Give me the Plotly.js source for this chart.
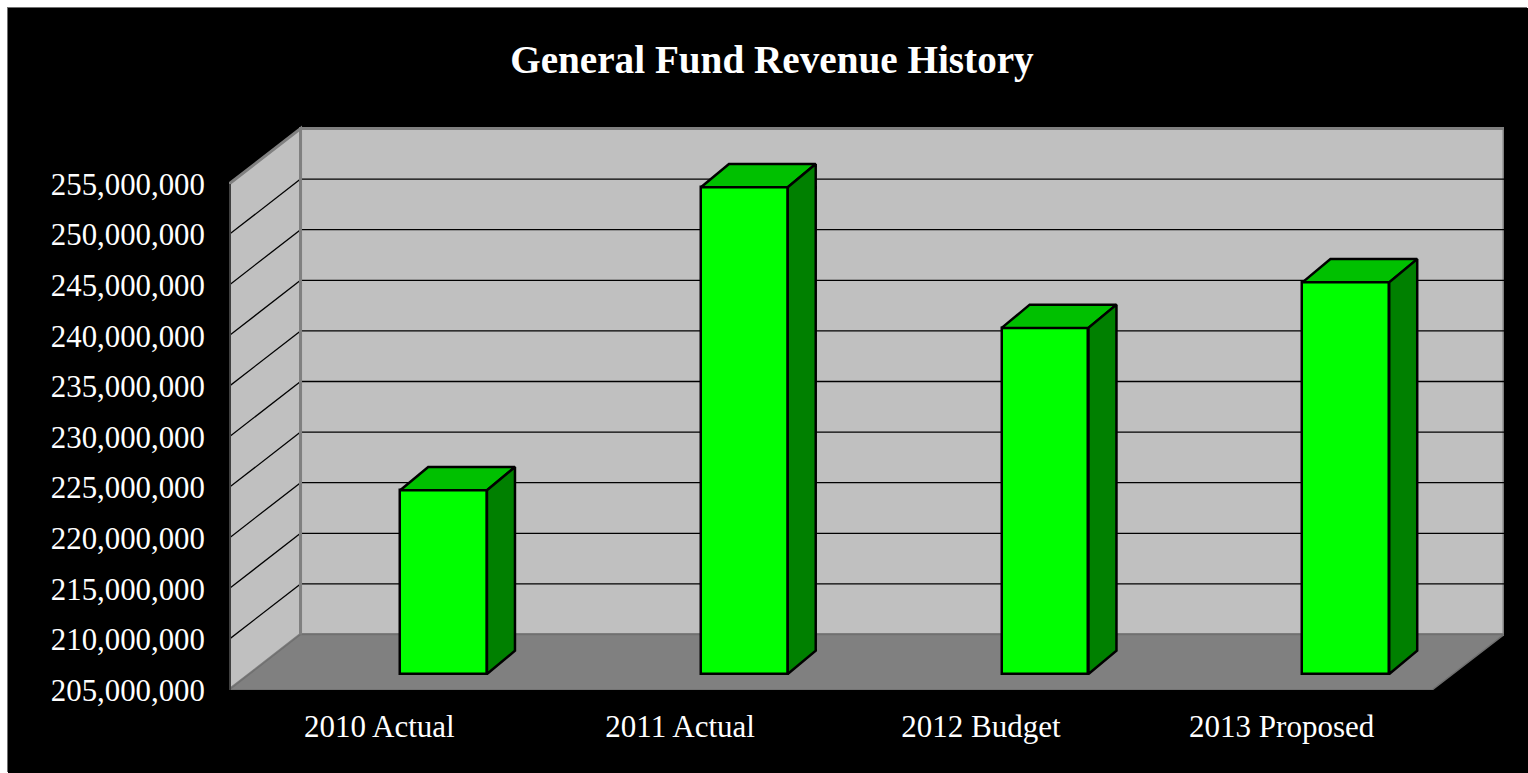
<!DOCTYPE html>
<html>
<head>
<meta charset="utf-8">
<script src="https://cdn.plot.ly/plotly-3.0.1.min.js"></script>
<style>
html,body{margin:0;padding:0;background:#fff;overflow:hidden}
#chart{position:absolute;left:8px;top:8px;width:1520px;height:765px;box-shadow:-1px -1px 0 #707070}
</style>
</head>
<body>
<div id="chart"></div>
<script>
var categories = ["2010 Actual", "2011 Actual", "2012 Budget", "2013 Proposed"];
var values = [223150000, 253100000, 239200000, 243700000];
var yTicks = [205000000,210000000,215000000,220000000,225000000,230000000,235000000,240000000,245000000,250000000,255000000];

var yMin = 205000000, yMax = 260830000;
var xMax = 4.2394;
var backDx = 0.2378, backDy = 5484000;   // depth of the chart box, axis units
var barShift = 0.2135, barWidth = 0.2885, barBase = 206580000; // bar placement on the floor
var barDx = 0.0931, barDy = 2300000;     // depth of each bar, axis units

var FONT = '"Liberation Serif","Times New Roman",serif';
var shapes = [];
function poly(pts, fill, lineColor, lineWidth) {
  var d = pts.map(function (p, i) { return (i ? 'L' : 'M') + p[0] + ',' + p[1]; }).join(' ') + ' Z';
  shapes.push({type:'path', path:d, xref:'x', yref:'y', layer:'below', fillcolor:fill,
               line:{color:lineColor, width:lineWidth}});
}
function seg(a, b, color, width) {
  shapes.push({type:'line', xref:'x', yref:'y', layer:'below', x0:a[0], y0:a[1], x1:b[0], y1:b[1],
               line:{color:color, width:width}});
}
var yTopTick = yTicks[yTicks.length - 1];
var frontRight = categories.length;
// back wall, side wall, floor
poly([[backDx,yMin+backDy],[xMax,yMin+backDy],[xMax,yTopTick+backDy],[backDx,yTopTick+backDy]], '#c0c0c0', '#808080', 3);
poly([[0,yMin],[backDx,yMin+backDy],[backDx,yTopTick+backDy],[0,yTopTick]], '#c0c0c0', '#808080', 3);
poly([[0,yMin],[frontRight,yMin],[xMax,yMin+backDy],[backDx,yMin+backDy]], '#808080', '#707070', 1.5);
// grid lines
yTicks.slice(1, -1).forEach(function (v) {
  seg([0,v],[backDx,v+backDy],'#000',1.3);
  seg([backDx,v+backDy],[xMax,v+backDy],'#000',1.3);
});
seg([backDx,yMin+backDy],[backDx,yTopTick+backDy],'#808080',3);
seg([0,yMin],[0,yTopTick],'#404040',4);

var traces = [];
var xs = categories.map(function (c, i) { return i + 0.5 + barShift; });
traces.push({
  type:'bar', x:xs, y:values.map(function (v) { return v - yMin; }), base:barBase,
  width:barWidth, marker:{color:'#00ff00', line:{color:'#000', width:2.5}},
  text:categories, hoverinfo:'text', showlegend:false, textposition:'none'
});
values.forEach(function (v, i) {
  var x0 = xs[i] - barWidth / 2, x1 = xs[i] + barWidth / 2;
  var t = barBase + v - yMin;
  traces.push({type:'scatter', mode:'lines', fill:'toself', fillcolor:'#00c000',
    x:[x0, x0+barDx, x1+barDx, x1, x0], y:[t, t+barDy, t+barDy, t, t],
    line:{color:'#000', width:2.5}, hoverinfo:'skip', showlegend:false});
  traces.push({type:'scatter', mode:'lines', fill:'toself', fillcolor:'#008000',
    x:[x1, x1+barDx, x1+barDx, x1, x1], y:[barBase, barBase+barDy, t+barDy, t, barBase],
    line:{color:'#000', width:2.5}, hoverinfo:'skip', showlegend:false});
});

var layout = {
  width:1520, height:765,
  margin:{l:221, r:24, t:117, b:83, pad:0},
  paper_bgcolor:'#000', plot_bgcolor:'#000',
  showlegend:false, bargap:0,
  title:{text:'<b>General Fund Revenue History</b>', x:0.5026, xanchor:'center', y:0.9335, yanchor:'middle',
         font:{family:FONT, size:39.2, color:'#fff'}},
  xaxis:{range:[0,xMax], tickmode:'array', tickvals:categories.map(function (c,i){return i+0.5;}),
         ticktext:categories, ticks:'outside', ticklen:9, tickcolor:'#000', showgrid:false, zeroline:false,
         showline:false, tickfont:{family:FONT, size:31, color:'#fff'}, fixedrange:true},
  yaxis:{range:[yMin,yMax], tickmode:'array', tickvals:yTicks, tickformat:',d',
         ticks:'outside', ticklen:17, tickcolor:'#000', showgrid:false, zeroline:false,
         showline:false, tickfont:{family:FONT, size:30.8, color:'#fff'}, fixedrange:true},
  shapes:shapes
};
Plotly.newPlot('chart', traces, layout, {displayModeBar:false, responsive:false});
</script>
</body>
</html>
